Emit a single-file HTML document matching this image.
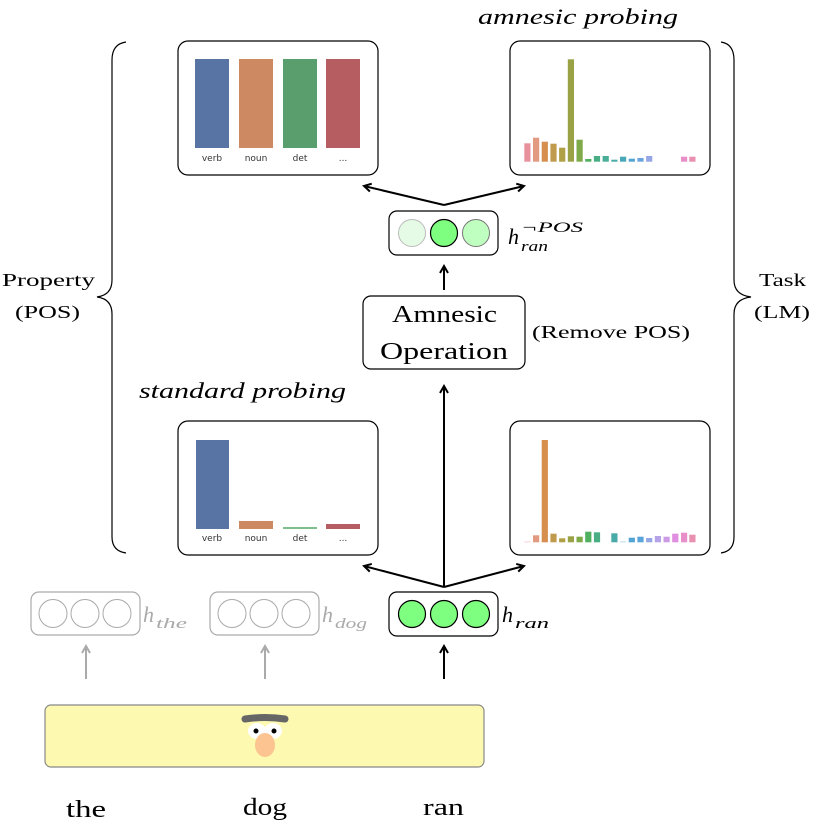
<!DOCTYPE html>
<html><head><meta charset="utf-8"><style>
html,body{margin:0;padding:0;background:#fff;}
svg{display:block;}
text{font-family:"Liberation Serif",serif;}
.s{font-family:"DejaVu Sans","Liberation Sans",sans-serif;font-size:9px;fill:#333;}
</style></head><body>
<svg width="815" height="832" viewBox="0 0 815 832" xmlns="http://www.w3.org/2000/svg">
<defs>
<marker id="ah" markerWidth="10" markerHeight="10" refX="8" refY="5" orient="auto" markerUnits="userSpaceOnUse">
<path d="M1,1 L8,5 L1,9" fill="none" stroke="#000" stroke-width="2"/></marker>
<marker id="ahg" markerWidth="10" markerHeight="10" refX="8" refY="5" orient="auto" markerUnits="userSpaceOnUse">
<path d="M1,1 L8,5 L1,9" fill="none" stroke="#aaa" stroke-width="2"/></marker>
</defs>

<!-- titles -->
<text x="478" y="24" font-size="22" font-style="italic" textLength="200" lengthAdjust="spacingAndGlyphs">amnesic probing</text>
<text x="139" y="398" font-size="22" font-style="italic" textLength="207" lengthAdjust="spacingAndGlyphs">standard probing</text>

<!-- braces -->
<path d="M126,42 Q112,44 112,60 L112,280 Q112,295 97,297 Q112,299 112,314 L112,537 Q112,551 126,553" fill="none" stroke="#000" stroke-width="1.2"/>
<path d="M721,42 Q734,44 734,60 L734,280 Q734,295 751,297 Q734,299 734,314 L734,537 Q734,551 721,553" fill="none" stroke="#000" stroke-width="1.2"/>
<text x="2" y="286" font-size="18" textLength="93" lengthAdjust="spacingAndGlyphs">Property</text>
<text x="15" y="318" font-size="18" textLength="65" lengthAdjust="spacingAndGlyphs">(POS)</text>
<text x="759" y="286" font-size="18" textLength="47" lengthAdjust="spacingAndGlyphs">Task</text>
<text x="754" y="318" font-size="18" textLength="56" lengthAdjust="spacingAndGlyphs">(LM)</text>

<!-- chart boxes -->
<rect x="178" y="41" width="200" height="134" rx="10" fill="#fff" stroke="#000" stroke-width="1.2"/>
<rect x="510" y="41" width="200" height="134" rx="10" fill="#fff" stroke="#000" stroke-width="1.2"/>
<rect x="178" y="421" width="200" height="134" rx="10" fill="#fff" stroke="#000" stroke-width="1.2"/>
<rect x="510" y="421" width="200" height="134" rx="10" fill="#fff" stroke="#000" stroke-width="1.2"/>

<!-- top-left bars -->
<rect x="195" y="59" width="34" height="89" fill="#5874a5"/>
<rect x="239" y="59" width="34" height="89" fill="#cc8962"/>
<rect x="283" y="59" width="34" height="89" fill="#5b9e6e"/>
<rect x="326" y="59" width="34" height="89" fill="#b65d61"/>
<text class="s" x="212" y="161" text-anchor="middle">verb</text>
<text class="s" x="256" y="161" text-anchor="middle">noun</text>
<text class="s" x="300" y="161" text-anchor="middle">det</text>
<text class="s" x="343" y="161" text-anchor="middle">...</text>

<!-- bottom-left bars -->
<rect x="196" y="440" width="33" height="89" fill="#5874a5"/>
<rect x="239" y="521" width="34" height="8" fill="#cc8962"/>
<rect x="283" y="527" width="34" height="2" fill="#7fbf8e"/>
<rect x="326" y="524" width="34" height="5" fill="#b65d61"/>
<text class="s" x="212" y="541" text-anchor="middle">verb</text>
<text class="s" x="256" y="541" text-anchor="middle">noun</text>
<text class="s" x="300" y="541" text-anchor="middle">det</text>
<text class="s" x="343" y="541" text-anchor="middle">...</text>

<!-- top-right bars -->
<g>
<rect x="524.3" y="143.3" width="6.2" height="18.4" fill="#e8919c"/>
<rect x="533" y="137.7" width="6.2" height="24" fill="#e29a80"/>
<rect x="541.7" y="141.7" width="6.2" height="20" fill="#d68f4e"/>
<rect x="550.4" y="143.7" width="6.2" height="18" fill="#c09b4e"/>
<rect x="559.1" y="147.7" width="6.2" height="14" fill="#b0a045"/>
<rect x="567.8" y="59.3" width="6.2" height="102.4" fill="#9aa246"/>
<rect x="576.5" y="139.7" width="6.2" height="22" fill="#7faa4a"/>
<rect x="585.2" y="159" width="6.2" height="2.7" fill="#4fb060"/>
<rect x="593.9" y="156" width="6.2" height="5.7" fill="#4aae85"/>
<rect x="602.6" y="156" width="6.2" height="5.7" fill="#49ad98"/>
<rect x="611.3" y="159.7" width="6.2" height="2" fill="#4aaaa8"/>
<rect x="620" y="156.7" width="6.2" height="5" fill="#4aa8b8"/>
<rect x="628.7" y="158.7" width="6.2" height="3" fill="#52a4d3"/>
<rect x="637.4" y="158" width="6.2" height="3.7" fill="#6aa4e0"/>
<rect x="646.1" y="156" width="6.2" height="5.7" fill="#95a7e6"/>
<rect x="681" y="156.7" width="6.2" height="5" fill="#e88ec8"/>
<rect x="689.3" y="156.7" width="6.2" height="5" fill="#e98fb0"/>
</g>

<!-- bottom-right bars -->
<g>
<rect x="524.3" y="541.5" width="6.2" height="0.8" fill="#f4c8d0"/>
<rect x="533" y="535.3" width="6.2" height="7" fill="#e29a80"/>
<rect x="541.7" y="440" width="6.2" height="102.3" fill="#d68f4e"/>
<rect x="550.4" y="533.7" width="6.2" height="8.6" fill="#c09b4e"/>
<rect x="559.1" y="538.3" width="6.2" height="4" fill="#b0a045"/>
<rect x="567.8" y="536.3" width="6.2" height="6" fill="#9aa246"/>
<rect x="576.5" y="536.7" width="6.2" height="5.6" fill="#7faa4a"/>
<rect x="585.2" y="531.7" width="6.2" height="10.6" fill="#4fb060"/>
<rect x="593.9" y="532.3" width="6.2" height="10" fill="#4aae85"/>
<rect x="611.3" y="533.3" width="6.2" height="9" fill="#4aaaa8"/>
<rect x="620" y="541.5" width="6.2" height="0.8" fill="#a8d8e0"/>
<rect x="628.7" y="537.7" width="6.2" height="4.6" fill="#52a4d3"/>
<rect x="637.4" y="536.7" width="6.2" height="5.6" fill="#5aa4dc"/>
<rect x="646.1" y="538" width="6.2" height="4.3" fill="#95a7e6"/>
<rect x="654.8" y="536" width="6.2" height="6.3" fill="#b5a2e8"/>
<rect x="663.5" y="536.7" width="6.2" height="5.6" fill="#cc9be6"/>
<rect x="672.2" y="533.7" width="6.2" height="8.6" fill="#e08ee0"/>
<rect x="681" y="532.7" width="6.2" height="9.6" fill="#e88ec8"/>
<rect x="689.3" y="534.7" width="6.2" height="7.6" fill="#e98fb0"/>
</g>

<!-- arrows -->
<line x1="444" y1="205" x2="364" y2="186" stroke="#000" stroke-width="2" marker-end="url(#ah)"/>
<line x1="444" y1="205" x2="524" y2="186" stroke="#000" stroke-width="2" marker-end="url(#ah)"/>
<line x1="444" y1="290" x2="444" y2="266" stroke="#000" stroke-width="2" marker-end="url(#ah)"/>
<line x1="444" y1="587" x2="444" y2="386" stroke="#000" stroke-width="2" marker-end="url(#ah)"/>
<line x1="444" y1="587" x2="364" y2="566" stroke="#000" stroke-width="2" marker-end="url(#ah)"/>
<line x1="444" y1="587" x2="524" y2="566" stroke="#000" stroke-width="2" marker-end="url(#ah)"/>
<line x1="444" y1="679" x2="444" y2="646" stroke="#000" stroke-width="2" marker-end="url(#ah)"/>
<line x1="86" y1="679" x2="86" y2="646" stroke="#aaa" stroke-width="2" marker-end="url(#ahg)"/>
<line x1="265" y1="679" x2="265" y2="646" stroke="#aaa" stroke-width="2" marker-end="url(#ahg)"/>

<!-- top vector -->
<rect x="389" y="211" width="109" height="44" rx="8" fill="#fff" stroke="#000" stroke-width="1.2"/>
<circle cx="412" cy="233" r="13.5" fill="#e6fbe6" stroke="#bbb" stroke-width="1"/>
<circle cx="444" cy="233" r="13.5" fill="#7fff7f" stroke="#000" stroke-width="1.2"/>
<circle cx="476" cy="233" r="13.5" fill="#bfffbf" stroke="#777" stroke-width="1"/>
<text x="508" y="244" font-size="22" font-style="italic">h</text>
<text x="521" y="251" font-size="15" font-style="italic" textLength="27" lengthAdjust="spacingAndGlyphs">ran</text>
<text x="521" y="232" font-size="15" font-style="italic" textLength="62" lengthAdjust="spacingAndGlyphs">¬POS</text>

<!-- amnesic op -->
<rect x="363" y="296" width="162" height="73" rx="8" fill="#fff" stroke="#000" stroke-width="1.2"/>
<text x="392" y="322" font-size="24" textLength="105" lengthAdjust="spacingAndGlyphs">Amnesic</text>
<text x="380" y="359" font-size="24" textLength="128" lengthAdjust="spacingAndGlyphs">Operation</text>
<text x="532" y="338" font-size="18" textLength="158" lengthAdjust="spacingAndGlyphs">(Remove POS)</text>

<!-- bottom vectors -->
<rect x="31" y="592" width="109" height="43" rx="8" fill="#fff" stroke="#aaa" stroke-width="1.2"/>
<circle cx="53" cy="613.5" r="14" fill="#fff" stroke="#aaa"/>
<circle cx="85" cy="613.5" r="14" fill="#fff" stroke="#aaa"/>
<circle cx="117" cy="613.5" r="14" fill="#fff" stroke="#aaa"/>
<text x="143" y="622" font-size="22" font-style="italic" fill="#aaa">h</text>
<text x="156" y="628" font-size="15" font-style="italic" fill="#aaa" textLength="31" lengthAdjust="spacingAndGlyphs">the</text>

<rect x="210" y="592" width="109" height="43" rx="8" fill="#fff" stroke="#aaa" stroke-width="1.2"/>
<circle cx="232" cy="613.5" r="14" fill="#fff" stroke="#aaa"/>
<circle cx="264" cy="613.5" r="14" fill="#fff" stroke="#aaa"/>
<circle cx="296" cy="613.5" r="14" fill="#fff" stroke="#aaa"/>
<text x="322" y="622" font-size="22" font-style="italic" fill="#aaa">h</text>
<text x="335" y="628" font-size="15" font-style="italic" fill="#aaa" textLength="32" lengthAdjust="spacingAndGlyphs">dog</text>

<rect x="389" y="592" width="109" height="44" rx="8" fill="#fff" stroke="#000" stroke-width="1.2"/>
<circle cx="412" cy="614" r="13.5" fill="#7fff7f" stroke="#000" stroke-width="1.2"/>
<circle cx="444" cy="614" r="13.5" fill="#7fff7f" stroke="#000" stroke-width="1.2"/>
<circle cx="476" cy="614" r="13.5" fill="#7fff7f" stroke="#000" stroke-width="1.2"/>
<text x="502" y="622" font-size="22" font-style="italic">h</text>
<text x="515" y="628" font-size="15" font-style="italic" textLength="34" lengthAdjust="spacingAndGlyphs">ran</text>

<!-- yellow model box -->
<rect x="45" y="705" width="439" height="62" rx="6" fill="#fdf9b0" stroke="#888" stroke-width="1.2"/>
<ellipse cx="257" cy="731" rx="9" ry="8" fill="#fff"/>
<ellipse cx="273" cy="731" rx="9" ry="8" fill="#fff"/>
<circle cx="256" cy="731" r="2.5" fill="#000"/>
<circle cx="274" cy="731" r="2.5" fill="#000"/>
<ellipse cx="265" cy="745" rx="10" ry="12" fill="#fcc490"/>
<path d="M245,719 Q265,716 285,719" fill="none" stroke="#666" stroke-width="7" stroke-linecap="round"/>

<text x="66" y="817" font-size="24" textLength="40" lengthAdjust="spacingAndGlyphs">the</text>
<text x="243" y="815" font-size="24" textLength="44" lengthAdjust="spacingAndGlyphs">dog</text>
<text x="423" y="815" font-size="24" textLength="41" lengthAdjust="spacingAndGlyphs">ran</text>
</svg>
</body></html>
